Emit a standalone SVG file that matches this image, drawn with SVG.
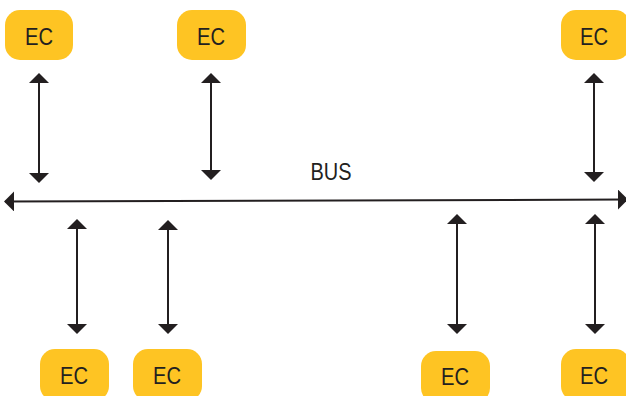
<svg xmlns="http://www.w3.org/2000/svg" width="626" height="396" viewBox="0 0 626 396">
  <style>
    .box { fill: #FEC423; }
    .lbl { font-family: "Liberation Sans", Arial, sans-serif; font-size: 24px; fill: #231F20; text-anchor: middle; }
    .link { stroke: #231F20; stroke-width: 2; fill: none; }
  </style>
  <defs>
    <marker id="head" viewBox="0 0 10 20" refX="9" refY="10" markerWidth="10" markerHeight="20" markerUnits="userSpaceOnUse" orient="auto-start-reverse">
      <path d="M0,0 L10,10 L0,20 Z" fill="#231F20"/>
    </marker>
  </defs>
  <rect width="626" height="396" fill="#FFFFFF"/>

  <!-- controllers above the bus -->
  <g id="ec-top-1"><rect class="box" x="5" y="10" width="68" height="50" rx="15"/><text class="lbl" x="39" y="45" textLength="28" lengthAdjust="spacingAndGlyphs">EC</text></g>
  <g id="ec-top-2"><rect class="box" x="177" y="10" width="69" height="50" rx="15"/><text class="lbl" x="211" y="45" textLength="28" lengthAdjust="spacingAndGlyphs">EC</text></g>
  <g id="ec-top-3"><rect class="box" x="561" y="10" width="69" height="50" rx="15"/><text class="lbl" x="594" y="45" textLength="28" lengthAdjust="spacingAndGlyphs">EC</text></g>

  <!-- controllers below the bus -->
  <g id="ec-bot-1"><rect class="box" x="40" y="349" width="69" height="52" rx="15"/><text class="lbl" x="74" y="384" textLength="28" lengthAdjust="spacingAndGlyphs">EC</text></g>
  <g id="ec-bot-2"><rect class="box" x="133" y="349" width="69" height="52" rx="15"/><text class="lbl" x="167" y="384" textLength="28" lengthAdjust="spacingAndGlyphs">EC</text></g>
  <g id="ec-bot-3"><rect class="box" x="421" y="351" width="69" height="52" rx="15"/><text class="lbl" x="455" y="385" textLength="28" lengthAdjust="spacingAndGlyphs">EC</text></g>
  <g id="ec-bot-4"><rect class="box" x="561" y="349" width="69" height="52" rx="15"/><text class="lbl" x="594" y="384" textLength="28" lengthAdjust="spacingAndGlyphs">EC</text></g>

  <!-- bus label -->
  <g id="bus"><text class="lbl" x="331" y="180" font-size="23" textLength="41" lengthAdjust="spacingAndGlyphs">BUS</text></g>

  <g id="connectors">
    <!-- the bus itself -->
    <line class="link" x1="5" y1="201.5" x2="627" y2="199.5" marker-start="url(#head)" marker-end="url(#head)"/>
    <!-- links between controllers and bus -->
    <line class="link" x1="39" y1="74" x2="39" y2="182" marker-start="url(#head)" marker-end="url(#head)"/>
    <line class="link" x1="211" y1="74" x2="211" y2="179" marker-start="url(#head)" marker-end="url(#head)"/>
    <line class="link" x1="594" y1="74" x2="594" y2="181" marker-start="url(#head)" marker-end="url(#head)"/>
    <line class="link" x1="77" y1="220" x2="77" y2="333" marker-start="url(#head)" marker-end="url(#head)"/>
    <line class="link" x1="168" y1="221" x2="168" y2="333" marker-start="url(#head)" marker-end="url(#head)"/>
    <line class="link" x1="457" y1="215" x2="457" y2="333" marker-start="url(#head)" marker-end="url(#head)"/>
    <line class="link" x1="595" y1="215" x2="595" y2="333" marker-start="url(#head)" marker-end="url(#head)"/>
  </g>
</svg>
